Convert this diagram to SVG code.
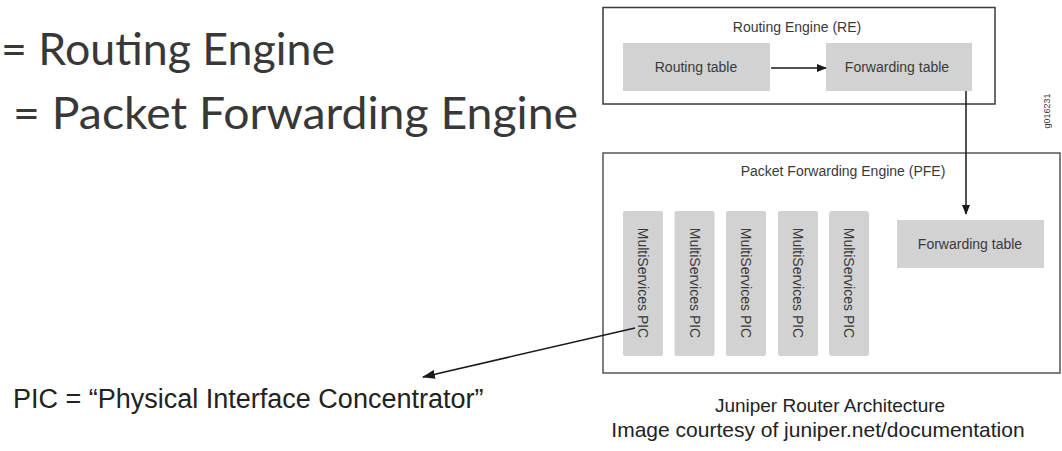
<svg xmlns="http://www.w3.org/2000/svg" width="1062" height="451" viewBox="0 0 1062 451">
<style>
.big{font-family:Lato,"Open Sans",sans-serif;font-size:44px;fill:#383838}
.lbl{font-family:"Liberation Sans",Arial,sans-serif;font-size:14px;fill:#3a3a3a}
.box{fill:#d2d2d2}
.frame{fill:none;stroke:#3a3a3a;stroke-width:1.5}
.conn{stroke:#1a1a1a;stroke-width:1.5;fill:none}
.cap{font-family:"Liberation Sans",Arial,sans-serif;fill:#222}
</style>
<defs>
<marker id="ah" markerWidth="10" markerHeight="8" refX="9" refY="4" orient="auto" markerUnits="userSpaceOnUse">
<path d="M0,0 L10,4 L0,8 Z" fill="#1a1a1a"/>
</marker>
<marker id="ah2" markerWidth="13" markerHeight="9" refX="12" refY="4.5" orient="auto" markerUnits="userSpaceOnUse">
<path d="M0,0 L13,4.5 L0,9 Z" fill="#1a1a1a"/>
</marker>
</defs>
<rect width="1062" height="451" fill="#ffffff"/>

<g id="legend">
<text class="big" x="1" y="65" textLength="334" lengthAdjust="spacingAndGlyphs">= Routing Engine</text>
<text class="big" x="13" y="129" textLength="565" lengthAdjust="spacingAndGlyphs">= Packet Forwarding Engine</text>
</g>

<g id="re">
<rect class="frame" x="603" y="7.5" width="392" height="96.5"/>
<text class="lbl" x="797" y="32" text-anchor="middle">Routing Engine (RE)</text>
</g>
<g id="routing-table">
<rect class="box" x="623" y="43" width="147" height="48"/>
<text class="lbl" x="696" y="72" text-anchor="middle">Routing table</text>
</g>
<g id="re-forwarding-table">
<rect class="box" x="826" y="43" width="146" height="48"/>
<text class="lbl" x="897" y="72" text-anchor="middle">Forwarding table</text>
</g>

<g id="pfe">
<rect x="603" y="153" width="457" height="220" fill="none" stroke="#555" stroke-width="1.5"/>
<text class="lbl" x="843" y="176" text-anchor="middle">Packet Forwarding Engine (PFE)</text>
</g>
<g id="pic1">
<rect class="box" x="623" y="211" width="40" height="145" rx="2"/>
<text class="lbl" transform="translate(643,283) rotate(90)" text-anchor="middle" dy="5">MultiServices PIC</text>
</g>
<g id="pic2">
<rect class="box" x="674.5" y="211" width="40" height="145" rx="2"/>
<text class="lbl" transform="translate(694.5,283) rotate(90)" text-anchor="middle" dy="5">MultiServices PIC</text>
</g>
<g id="pic3">
<rect class="box" x="726" y="211" width="40" height="145" rx="2"/>
<text class="lbl" transform="translate(746,283) rotate(90)" text-anchor="middle" dy="5">MultiServices PIC</text>
</g>
<g id="pic4">
<rect class="box" x="778" y="211" width="40" height="145" rx="2"/>
<text class="lbl" transform="translate(798,283) rotate(90)" text-anchor="middle" dy="5">MultiServices PIC</text>
</g>
<g id="pic5">
<rect class="box" x="829" y="211" width="40" height="145" rx="3"/>
<text class="lbl" transform="translate(849,283) rotate(90)" text-anchor="middle" dy="5">MultiServices PIC</text>
</g>
<g id="pfe-forwarding-table">
<rect class="box" x="897" y="220" width="147" height="48"/>
<text class="lbl" x="970" y="249" text-anchor="middle">Forwarding table</text>
</g>

<g id="figure-id">
<text class="lbl" style="font-size:9px" transform="translate(1047,111) rotate(-90)" text-anchor="middle" dy="3">g016231</text>
</g>

<g id="connectors">
<line class="conn" x1="771" y1="68" x2="826" y2="68" marker-end="url(#ah)"/>
<line class="conn" x1="966" y1="91" x2="966" y2="214" marker-end="url(#ah)"/>
<line class="conn" x1="635" y1="328" x2="423" y2="377" marker-end="url(#ah2)"/>
</g>

<g id="captions">
<text class="cap" x="13" y="408" style="font-size:27px">PIC = “Physical Interface Concentrator”</text>
<text class="cap" x="830" y="412" text-anchor="middle" style="font-size:19px">Juniper Router Architecture</text>
<text class="cap" x="818" y="437" text-anchor="middle" style="font-size:21px">Image courtesy of juniper.net/documentation</text>
</g>
</svg>
